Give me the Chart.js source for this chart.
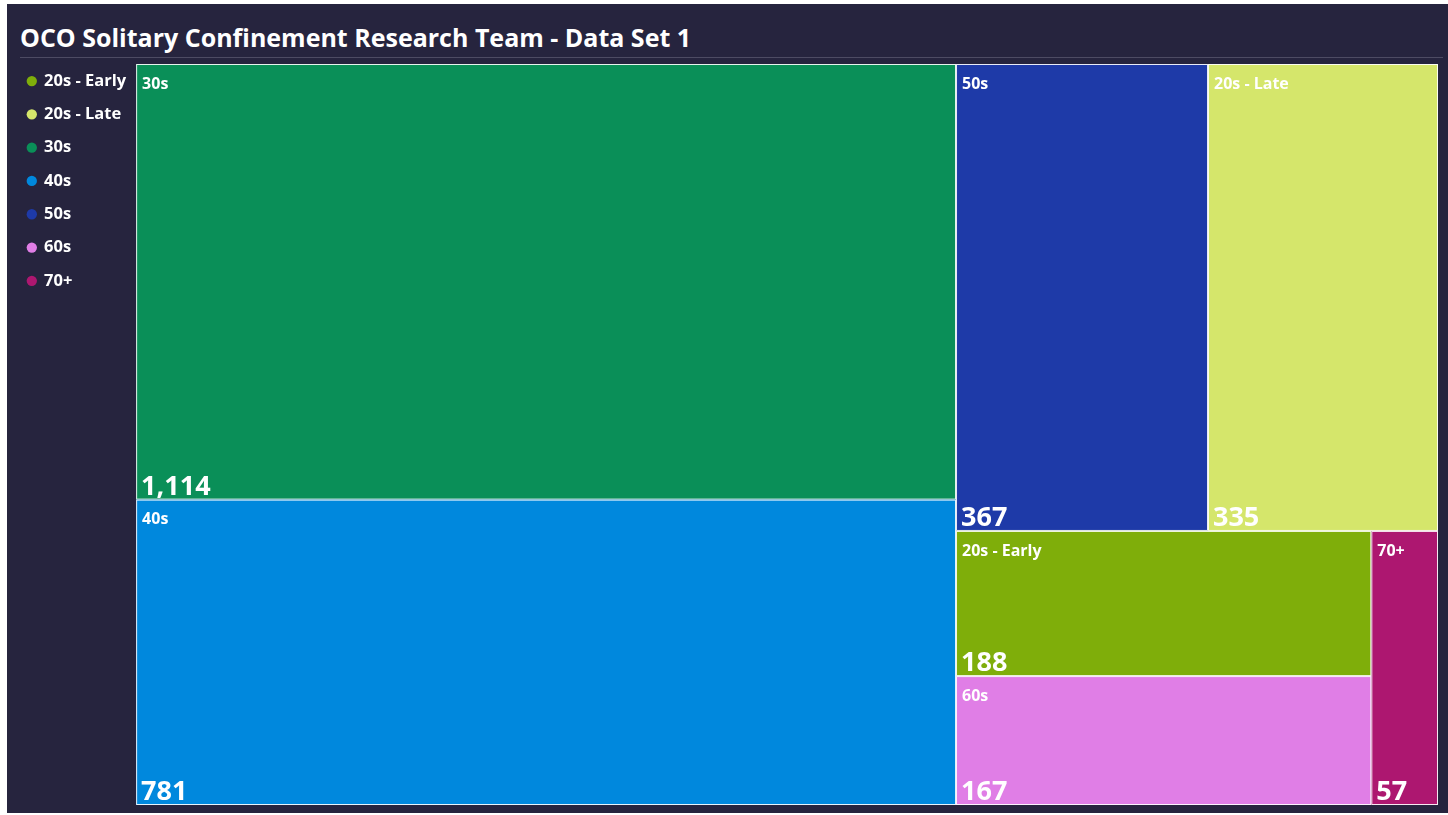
<!DOCTYPE html>
<html>
<head>
<meta charset="utf-8">
<script src="https://cdn.jsdelivr.net/npm/chart.js@4.4.1/dist/chart.umd.min.js"></script>
<style>
    html, body { margin: 0; background: #fff; }
    #panel { position: absolute; left: 7px; top: 4px; width: 1441px; height: 809px; background: #26243e; overflow: hidden; }
    #title { position: absolute; left: 13px; top: 0; width: 1423px; height: 54px; box-sizing: border-box;
             padding-top: 16px; line-height: 30px; border-bottom: 1px solid #4d4b63;
             color: #fff; font: bold 25px "Open Sans", sans-serif; white-space: nowrap; }
    #wrap { position: absolute; left: 0; top: 52px; width: 1441px; height: 757px; }
</style>
</head>
<body>
<div id="panel">
    <div id="title">OCO Solitary Confinement Research Team - Data Set 1</div>
    <div id="wrap"><canvas id="treemap"></canvas></div>
</div>
<script>
// Age groups, in legend order
const categories = ['20s - Early', '20s - Late', '30s', '40s', '50s', '60s', '70+'];
const counts = [188, 335, 1114, 781, 367, 167, 57];
const colors = ['#7fae0a', '#d5e66b', '#0a8f58', '#0088dd', '#1e3aa8', '#e07ee6', '#ad1770'];

const PHI = (1 + Math.sqrt(5)) / 2;

// squarified layout (same rule as d3.treemapSquarify), values sorted descending
function squarify(values, x0, y0, x1, y1) {
    const out = [];
    const n = values.length;
    let value = values.reduce((a, b) => a + b, 0);
    let i0 = 0;
    while (i0 < n) {
        const dx = x1 - x0, dy = y1 - y0;
        let i1 = i0;
        let sum = values[i1++];
        let minV = sum, maxV = sum;
        const alpha = Math.max(dy / dx, dx / dy) / (value * PHI);
        let beta = sum * sum * alpha;
        let minRatio = Math.max(maxV / beta, beta / minV);
        for (; i1 < n; i1++) {
            const v = values[i1];
            sum += v;
            if (v < minV) minV = v;
            if (v > maxV) maxV = v;
            beta = sum * sum * alpha;
            const r = Math.max(maxV / beta, beta / minV);
            if (r > minRatio) { sum -= v; break; }
            minRatio = r;
        }
        if (dx < dy) {
            const yb = i1 < n ? y0 + dy * sum / value : y1;
            let x = x0;
            for (let k = i0; k < i1; k++) {
                const w = dx * values[k] / sum;
                out[k] = [x, y0, x + w, yb];
                x += w;
            }
            y0 = yb;
        } else {
            const xb = i1 < n ? x0 + dx * sum / value : x1;
            let y = y0;
            for (let k = i0; k < i1; k++) {
                const h = dy * values[k] / sum;
                out[k] = [x0, y, xb, y + h];
                y += h;
            }
            x0 = xb;
        }
        value -= sum;
        i0 = i1;
    }
    return out;
}

const treemapCells = {
    id: 'treemapCells',
    afterDatasetsDraw(chart) {
        const { ctx, chartArea, scales: { x, y } } = chart;
        const W = chartArea.width, H = chartArea.height;
        const order = counts.map((v, i) => i).sort((a, b) => counts[b] - counts[a]);
        const rects = squarify(order.map(i => counts[i]), 0, 0, W, H);

        ctx.save();
        rects.forEach((r, k) => {
            const i = order[k];
            const left = x.getPixelForValue(r[0] / W);
            const right = x.getPixelForValue(r[2] / W);
            const top = y.getPixelForValue(r[1] / H);
            const bottom = y.getPixelForValue(r[3] / H);

            ctx.fillStyle = colors[i];
            ctx.fillRect(left, top, right - left, bottom - top);
            ctx.strokeStyle = 'rgba(255,255,255,0.9)';
            ctx.lineWidth = 1;
            ctx.strokeRect(left + 0.5, top + 0.5, right - left - 1, bottom - top - 1);

            ctx.fillStyle = '#fff';
            ctx.textAlign = 'left';
            ctx.textBaseline = 'middle';
            ctx.font = 'bold 16px "Open Sans"';
            ctx.fillText(categories[i], left + 6, top + 20);
            ctx.textBaseline = 'alphabetic';
            ctx.font = 'bold 27px "Open Sans"';
            ctx.fillText(counts[i].toLocaleString('en-US'), left + 5, bottom - 5);
        });
        ctx.restore();
    }
};

const ctx = document.getElementById('treemap').getContext('2d');
const chart = new Chart(ctx, {
    type: 'scatter',
    data: {
        datasets: categories.map((c, i) => ({
            label: c,
            data: [],
            backgroundColor: colors[i],
            borderColor: colors[i],
            borderWidth: 0,
            pointStyle: 'circle'
        }))
    },
    options: {
        responsive: true,
        maintainAspectRatio: false,
        animation: false,
        layout: {
            padding: { top: 0, left: 4, right: 10, bottom: 8 }
        },
        plugins: {
            legend: {
                position: 'left',
                align: 'start',
                onClick: null,
                labels: {
                    color: '#fff',
                    font: { family: 'Open Sans', weight: 'bold', size: 16.5 },
                    usePointStyle: true,
                    pointStyle: 'circle',
                    boxWidth: 8,
                    boxHeight: 7.3,
                    padding: 16.8
                }
            },
            tooltip: { enabled: false }
        },
        scales: {
            x: {
                type: 'linear',
                position: 'top',
                min: 0,
                max: 1,
                grid: { display: false, drawTicks: true, tickLength: 8 },
                border: { display: false },
                ticks: { display: false }
            },
            y: {
                type: 'linear',
                min: 0,
                max: 1,
                reverse: true,
                display: false
            }
        }
    },
    plugins: [treemapCells]
});
</script>
</body>
</html>
